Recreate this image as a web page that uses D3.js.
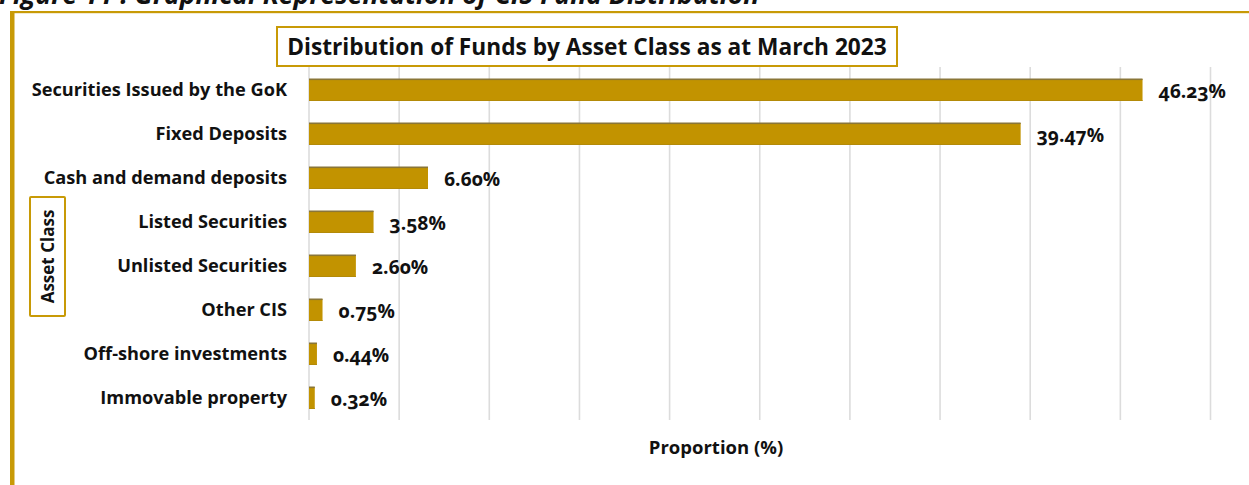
<!DOCTYPE html>
<html>
<head>
<meta charset="utf-8">
<script src="https://cdn.jsdelivr.net/npm/d3@7"></script>
<style>
  html, body { margin: 0; padding: 0; background: #fff; }
  svg { display: block; font-family: "Open Sans", Lato, sans-serif; }
</style>
</head>
<body>
<svg id="chart" width="1249" height="485"></svg>
<script>
const categories = [
  "Securities Issued by the GoK",
  "Fixed Deposits",
  "Cash and demand deposits",
  "Listed Securities",
  "Unlisted Securities",
  "Other CIS",
  "Off-shore investments",
  "Immovable property"
];
const values = [46.23, 39.47, 6.60, 3.58, 2.60, 0.75, 0.44, 0.32];
const valueLabels = ["46.23%", "39.47%", "6.60%", "3.58%", "2.60%", "0.75%", "0.44%", "0.32%"];
const xTicks = [0, 5, 10, 15, 20, 25, 30, 35, 40, 45, 50];
const chartTitle = "Distribution of Funds by Asset Class as at March 2023";
const figureCaption = "Figure 11 : Graphical Representation of CIS Fund Distribution";
const yTitle = "Asset Class";
const xTitle = "Proportion (%)";

const gold = "#C89A06";
const barColor = "#C29300";
const svg = d3.select("#chart");

const x = d3.scaleLinear().domain([0, 50]).range([309, 1210.5]);
const y = d3.scaleBand().domain(categories).range([68, 420]).paddingInner(0.5).paddingOuter(0.25);

// caption (cut off at top, as in the source)
svg.append("text").attr("x", -1).attr("y", 4)
  .attr("font-size", 26.5).attr("font-weight", "bold").attr("font-style", "italic")
  .attr("fill", "#111").text(figureCaption);

// frame lines
svg.append("rect").attr("x", 10).attr("y", 11).attr("width", 1249 - 10).attr("height", 2.2).attr("fill", gold);
svg.append("rect").attr("x", 10).attr("y", 11).attr("width", 4.5).attr("height", 485 - 11).attr("fill", gold);

// gridlines
svg.append("g").selectAll("line").data(xTicks).join("line")
  .attr("x1", d => x(d)).attr("x2", d => x(d))
  .attr("y1", 67).attr("y2", 420)
  .attr("stroke", "#dcdcdc").attr("stroke-width", 1.6);

// bars
const bars = svg.append("g");
bars.selectAll("rect.bar").data(values).join("rect").attr("class", "bar")
  .attr("x", x(0)).attr("y", (d, i) => y(categories[i]))
  .attr("width", d => x(d) - x(0)).attr("height", y.bandwidth())
  .attr("fill", barColor);
bars.selectAll("rect.edge").data(values).join("rect").attr("class", "edge")
  .attr("x", x(0)).attr("y", (d, i) => y(categories[i]) - 0.5)
  .attr("width", d => x(d) - x(0)).attr("height", 1.6)
  .attr("fill", "#8a7638");
bars.selectAll("rect.edge2").data(values).join("rect").attr("class", "edge2")
  .attr("x", x(0)).attr("y", (d, i) => y(categories[i]) + y.bandwidth() - 1)
  .attr("width", d => x(d) - x(0)).attr("height", 1)
  .attr("fill", "#b38a08");

// category labels
svg.append("g").selectAll("text").data(categories).join("text")
  .attr("x", 287).attr("y", d => y(d) + y.bandwidth() / 2 - 1)
  .attr("text-anchor", "end").attr("dominant-baseline", "central")
  .attr("font-size", 18.2).attr("font-weight", "bold").attr("fill", "#111")
  .text(d => d);

// value labels
svg.append("g").selectAll("text").data(values).join("text")
  .attr("x", d => x(d) + 16).attr("y", (d, i) => y(categories[i]) + y.bandwidth() / 2)
  .attr("dominant-baseline", "central")
  .style("font-variant-numeric", "oldstyle-nums")
  .attr("font-size", 19.3).attr("font-weight", "bold").attr("fill", "#111")
  .text((d, i) => valueLabels[i]);

// title box
svg.append("rect").attr("x", 277).attr("y", 27).attr("width", 620).attr("height", 39)
  .attr("fill", "#fff").attr("stroke", gold).attr("stroke-width", 2);
svg.append("text").attr("x", 587).attr("y", 46).attr("text-anchor", "middle")
  .attr("dominant-baseline", "central")
  .attr("font-size", 22.7).attr("font-weight", "bold").attr("fill", "#111").text(chartTitle);

// y title box
svg.append("rect").attr("x", 30).attr("y", 197).attr("width", 35).attr("height", 119)
  .attr("fill", "#fff").attr("stroke", gold).attr("stroke-width", 2).attr("rx", 1);
svg.append("text").attr("transform", "translate(47,256.5) rotate(-90)")
  .attr("text-anchor", "middle").attr("dominant-baseline", "central")
  .attr("font-size", 17).attr("font-weight", "bold").attr("fill", "#111").text(yTitle);

// x title
svg.append("text").attr("x", 716).attr("y", 446).attr("text-anchor", "middle")
  .attr("dominant-baseline", "central")
  .attr("font-size", 18.5).attr("font-weight", "bold").attr("fill", "#111").text(xTitle);
</script>
</body>
</html>
